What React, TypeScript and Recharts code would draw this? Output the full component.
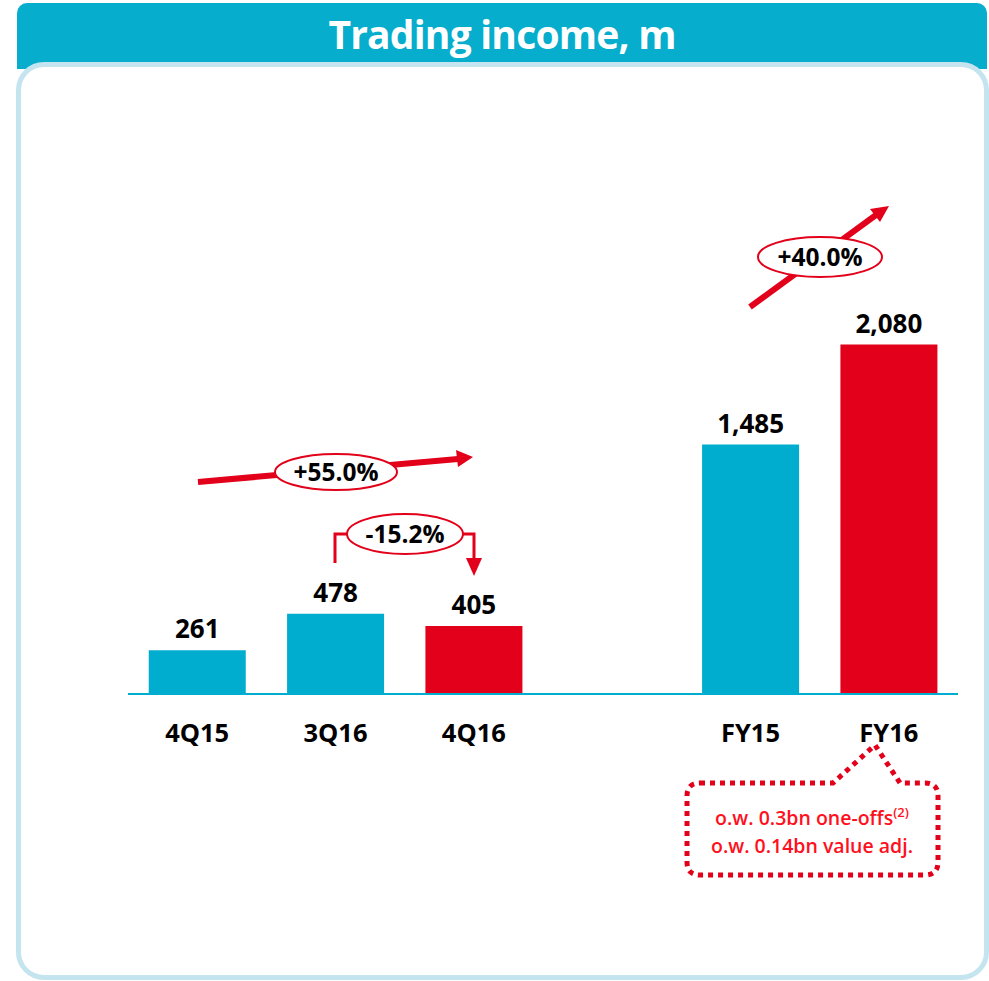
import React from "react";
import { BarChart, Bar, XAxis, YAxis, LabelList, Cell } from "recharts";

const TEAL = "#00adce";
const RED = "#e2001a";
const FONT = "'Open Sans', 'DejaVu Sans', sans-serif";

// chart data
const categories = ["4Q15", "3Q16", "4Q16", "", "FY15", "FY16"];
const values: (number | null)[] = [261, 478, 405, null, 1485, 2080];
const highlighted = ["4Q16", "FY16"];

const chartData = categories.map((name, i) => ({ name, value: values[i] }));

const fmt = (v: any) =>
  v === null || v === undefined ? "" : Number(v).toLocaleString("en-US");

function Tick({ x, y, payload }: any) {
  return (
    <text
      x={x}
      y={y + 40}
      textAnchor="middle"
      fontFamily={FONT}
      fontWeight={700}
      fontSize={25.5}
      fill="#000"
    >
      {payload.value}
    </text>
  );
}

function Pill({ cx, cy, rx, ry, text }: any) {
  return (
    <g>
      <ellipse cx={cx} cy={cy} rx={rx} ry={ry} fill="#fff" stroke={RED} strokeWidth={2} />
      <text
        x={cx}
        y={cy + 9}
        textAnchor="middle"
        fontFamily={FONT}
        fontWeight={700}
        fontSize={24.5}
        fill="#000"
      >
        {text}
      </text>
    </g>
  );
}

export default function App() {
  return (
    <div
      style={{
        position: "absolute",
        left: 0,
        top: 0,
        width: 989,
        height: 981,
        background: "#fff",
        overflow: "hidden",
      }}
    >
      <div
        style={{
          position: "absolute",
          left: 17,
          top: 3,
          width: 970,
          height: 66,
          background: "#06adcc",
          borderRadius: "10px 10px 0 0",
          color: "#fff",
          fontFamily: FONT,
          fontWeight: 700,
          fontSize: 39,
          textAlign: "center",
          lineHeight: "62px",
          letterSpacing: -0.8,
        }}
      >
        Trading income, m
      </div>
      <div
        style={{
          position: "absolute",
          left: 16,
          top: 62,
          width: 973,
          height: 918,
          boxSizing: "border-box",
          border: "5px solid #c4e4ef",
          borderRadius: 28,
          background: "#fff",
        }}
      />
      <div style={{ position: "absolute", left: 0, top: 0 }}>
        <BarChart
          width={989}
          height={981}
          data={chartData}
          margin={{ top: 106, right: 31, left: 128, bottom: 227 }}
          barCategoryGap="15%"
        >
          <XAxis
            dataKey="name"
            height={60}
            axisLine={{ stroke: TEAL, strokeWidth: 2 }}
            tickLine={false}
            tick={<Tick />}
            interval={0}
          />
          <YAxis hide domain={[0, 3500]} />
          <Bar dataKey="value" isAnimationActive={false}>
            {chartData.map((d) => (
              <Cell key={d.name} fill={highlighted.includes(d.name) ? RED : TEAL} />
            ))}
            <LabelList
              dataKey="value"
              position="top"
              offset={12}
              formatter={fmt}
              fontFamily={FONT}
              fontWeight={700}
              fontSize={26}
              fill="#000"
            />
          </Bar>
        </BarChart>
      </div>
      <svg
        width={989}
        height={981}
        style={{ position: "absolute", left: 0, top: 0, pointerEvents: "none" }}
      >
        {/* +55.0% */}
        <line x1={198} y1={482} x2={458} y2={459} stroke={RED} strokeWidth={6} />
        <polygon points="473,457 456,450 458,467" fill={RED} />
        <Pill cx={336} cy={472} rx={61} ry={18} text="+55.0%" />

        {/* -15.2% */}
        <polyline
          points="335,563 335,534 474,534 474,560"
          fill="none"
          stroke={RED}
          strokeWidth={3}
        />
        <polygon points="466,558 482,558 474,576" fill={RED} />
        <Pill cx={405} cy={534} rx={58} ry={20} text="-15.2%" />

        {/* +40.0% */}
        <line x1={750} y1={307} x2={876} y2={215} stroke={RED} strokeWidth={6} />
        <polygon points="889,206 870,209 880,222" fill={RED} />
        <Pill cx={820} cy={257} rx={62} ry={20} text="+40.0%" />

        {/* callout */}
        <path
          d="M 700 783 L 833 783 L 875 745 L 900 783 L 925 783 Q 938 783 938 796 L 938 862 Q 938 875 925 875 L 700 875 Q 687 875 687 862 L 687 796 Q 687 783 700 783 Z"
          fill="#fff"
          stroke={RED}
          strokeWidth={5}
          strokeDasharray="5 5"
        />
        <text
          x={812}
          y={825}
          textAnchor="middle"
          fontFamily={FONT}
          fontWeight={600}
          fontSize={19.5}
          fill="#ff1020"
        >
          o.w. 0.3bn one-offs
          <tspan fontSize={13} dy={-8}>(2)</tspan>
        </text>
        <text
          x={812}
          y={853}
          textAnchor="middle"
          fontFamily={FONT}
          fontWeight={600}
          fontSize={19.5}
          fill="#ff1020"
        >
          o.w. 0.14bn value adj.
        </text>
      </svg>
    </div>
  );
}
